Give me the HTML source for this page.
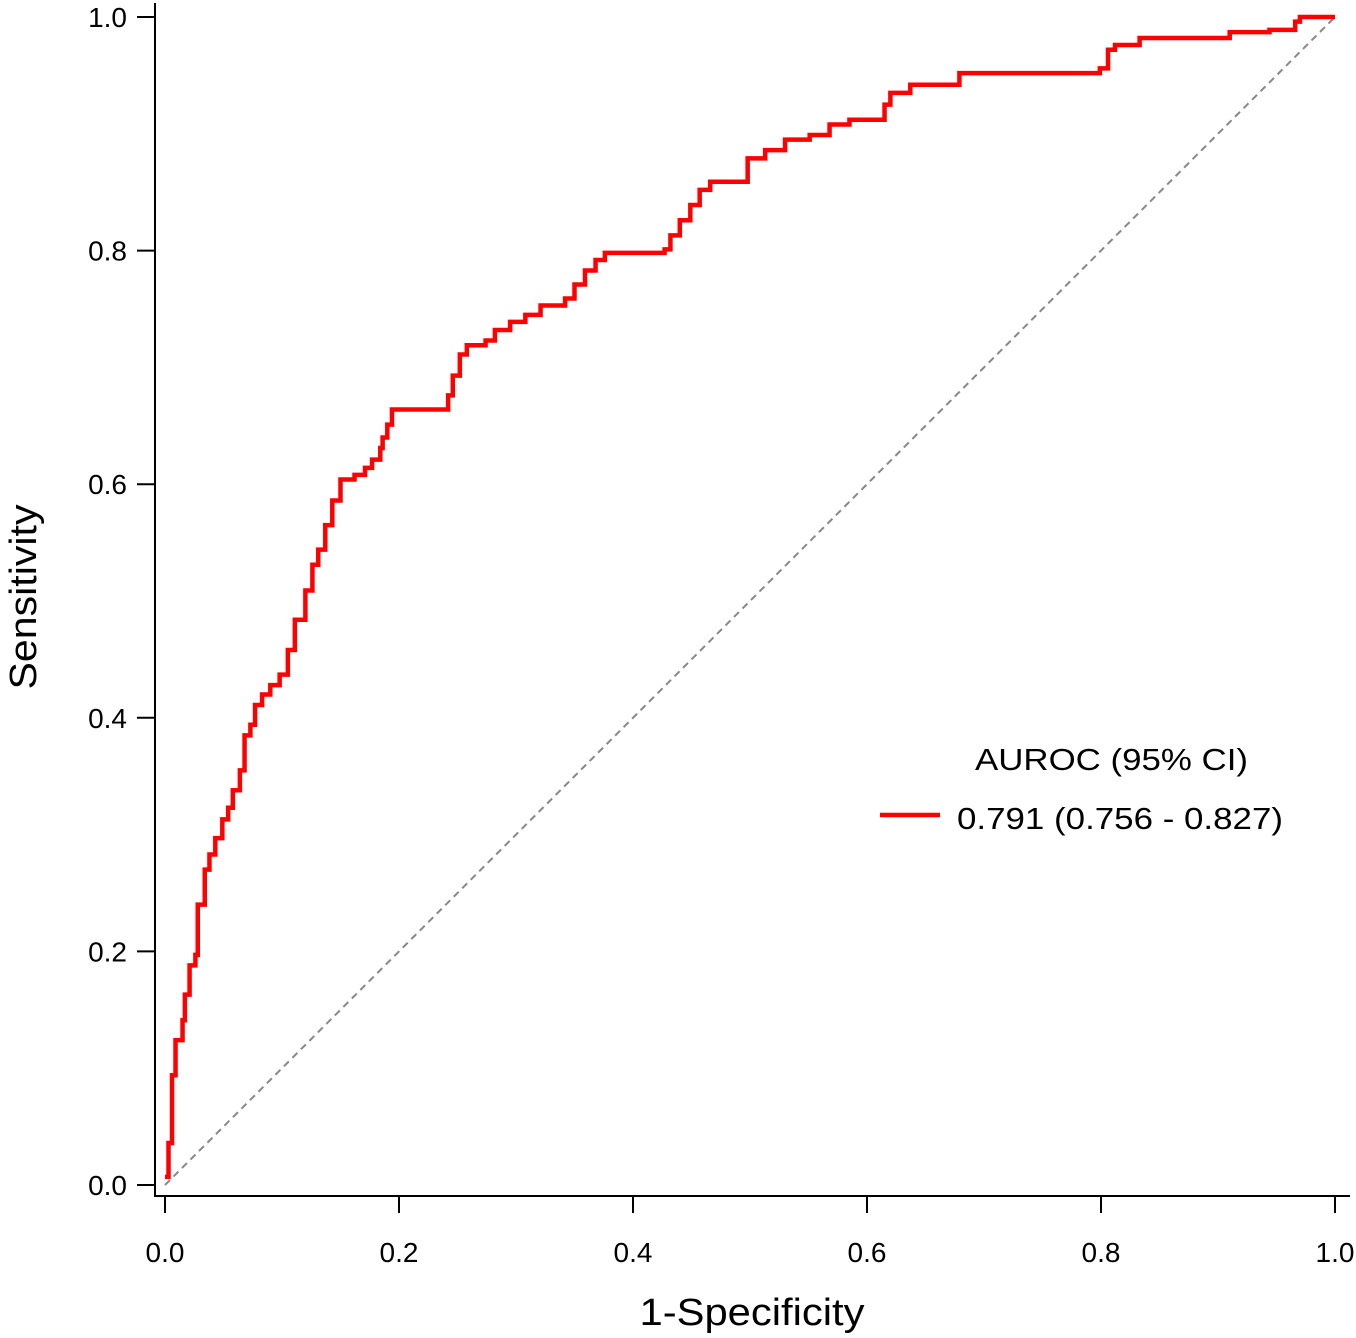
<!DOCTYPE html>
<html><head><meta charset="utf-8">
<style>html,body{margin:0;padding:0;background:#fff;}svg{display:block;}</style>
</head><body>
<svg id="chart" width="1356" height="1338" viewBox="0 0 1356 1338" xmlns="http://www.w3.org/2000/svg" font-family="'Liberation Sans', 'DejaVu Sans', sans-serif">
  <g id="axes"></g>
  <line id="diag" stroke="#888" stroke-width="2" stroke-dasharray="7,5"/>
  <path id="roc" fill="none" stroke="#ff0000" stroke-width="4.5" stroke-linejoin="miter"/>
  <text x="0" y="0" transform="translate(36,597) rotate(-90)" text-anchor="middle" font-size="38" textLength="185" lengthAdjust="spacingAndGlyphs">Sensitivity</text>
  <text x="752" y="1325" text-anchor="middle" font-size="38" textLength="225" lengthAdjust="spacingAndGlyphs">1-Specificity</text>
  <g>
    <text x="975" y="770" font-size="31" textLength="273" lengthAdjust="spacingAndGlyphs">AUROC (95% CI)</text>
    <line x1="880" y1="815" x2="940" y2="815" stroke="#ff0000" stroke-width="4.5"/>
    <text x="957" y="829" font-size="31" textLength="326" lengthAdjust="spacingAndGlyphs">0.791 (0.756 - 0.827)</text>
  </g>
</svg>
<script>
const xTicks = [0, 0.2, 0.4, 0.6, 0.8, 1.0];
const yTicks = [0, 0.2, 0.4, 0.6, 0.8, 1.0];
const tickLabels = ["0.0", "0.2", "0.4", "0.6", "0.8", "1.0"];
const fpr = [0,0,.003,.006,.009,.015,.017,.021,.026,.028,.034,.038,.043,.049,.054,.058,.064,.068,.073,.077,.083,.090,.098,.105,.111,.120,.126,.131,.137,.143,.150,.162,.171,.177,.184,.186,.190,.194,.238,.242,.246,.252,.258,.274,.282,.295,.308,.321,.342,.350,.359,.368,.376,.427,.432,.440,.449,.457,.466,.491,.498,.513,.530,.551,.568,.585,.615,.620,.637,.675,.679,.799,.806,.812,.833,.906,.910,.944,.966,.970,1.0];
const tpr = [0,.007,.036,.094,.124,.141,.163,.188,.197,.240,.270,.283,.297,.313,.323,.338,.355,.385,.394,.411,.420,.428,.437,.458,.484,.509,.531,.544,.565,.586,.604,.608,.614,.621,.631,.640,.651,.664,.664,.676,.693,.711,.719,.723,.732,.739,.745,.753,.759,.771,.783,.792,.798,.801,.813,.826,.839,.852,.859,.859,.879,.886,.895,.899,.908,.912,.925,.935,.942,.942,.952,.956,.972,.976,.982,.982,.987,.989,.996,1.0,1.0];

const X = v => 165 + v * 1170;
const Y = v => 1185 - v * 1168;
const NS = "http://www.w3.org/2000/svg";
const axes = document.getElementById('axes');
function mk(tag, attrs, parent) {
  const e = document.createElementNS(NS, tag);
  for (const k in attrs) e.setAttribute(k, attrs[k]);
  parent.appendChild(e);
  return e;
}
const yl = mk('line', {x1:155, y1:3, x2:155, y2:1197, stroke:'#000', 'stroke-width':2}, axes);


const xl = mk('line', {x1:154, y1:1196, x2:1350, y2:1196, stroke:'#000', 'stroke-width':2}, axes);


xTicks.forEach((v, i) => {
  const t = mk('line', {x1:X(v), y1:1196, x2:X(v), y2:1213, stroke:'#000', 'stroke-width':2}, axes);
  
  
  const l = mk('text', {x:X(v), y:1262, 'text-anchor':'middle', 'font-size':28}, axes);
  l.textContent = tickLabels[i];
  
  
});
yTicks.forEach((v, i) => {
  const t = mk('line', {x1:137, y1:Y(v), x2:155, y2:Y(v), stroke:'#000', 'stroke-width':2}, axes);
  
  
  const l = mk('text', {x:127, y:Y(v) + 10, 'text-anchor':'end', 'font-size':28}, axes);
  l.textContent = tickLabels[i];
  
  
});
const diag = document.getElementById('diag');
diag.setAttribute('x1', X(0)); diag.setAttribute('y1', Y(0));
diag.setAttribute('x2', X(1)); diag.setAttribute('y2', Y(1));
let d = 'M' + X(fpr[1]) + ',' + Y(tpr[1]);
for (let i = 2; i < fpr.length; i++) {
  d += ' H' + X(fpr[i]) + ' V' + Y(tpr[i]);
}
document.getElementById('roc').setAttribute('d', d);
</script>
</body></html>
